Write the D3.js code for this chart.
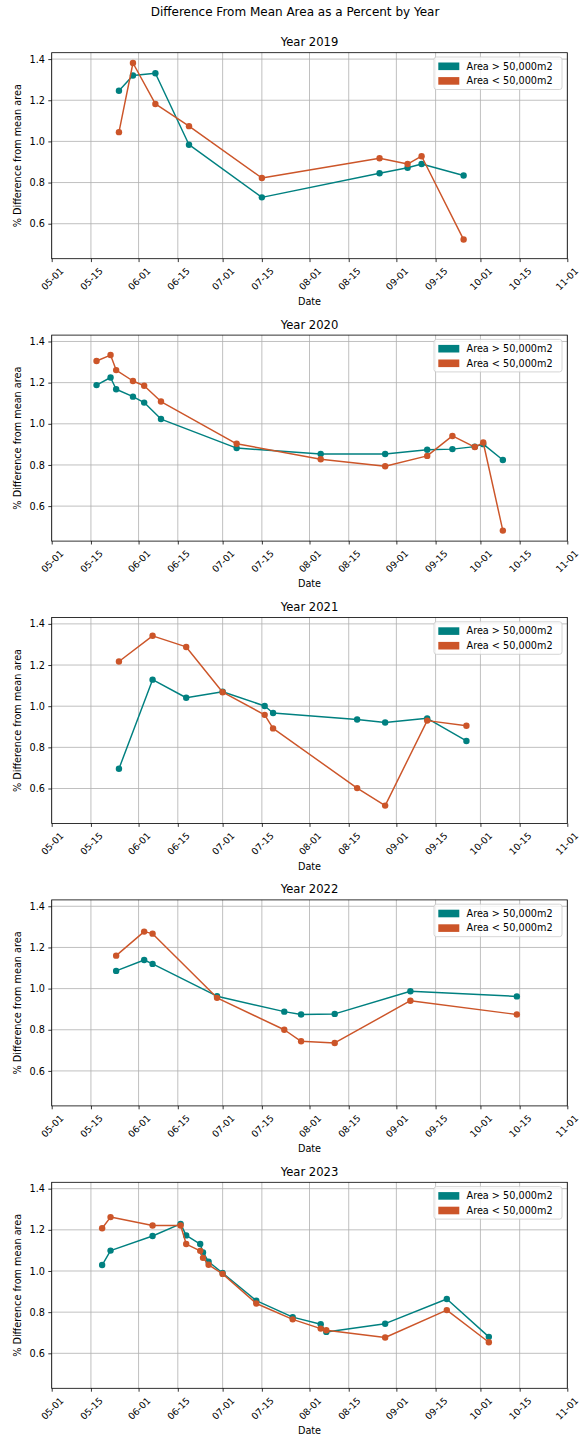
<!DOCTYPE html>
<html>
<head>
<meta charset="utf-8">
<script src="https://cdn.jsdelivr.net/npm/d3@7"></script>
<style>
  html, body { margin: 0; padding: 0; background: #fff; }
  svg { display: block; font-family: "DejaVu Sans", sans-serif; }
</style>
</head>
<body>
<svg id="chart" width="579" height="1437"></svg>
<script>
// ---------------- data ----------------
const years = [2019, 2020, 2021, 2022, 2023];
const seriesNames = ["Area > 50,000m2", "Area < 50,000m2"];
const seriesColors = ["#008080", "#cc5529"];
const xTickLabels = ["05-01","05-15","06-01","06-15","07-01","07-15","08-01","08-15","09-01","09-15","10-01","10-15","11-01"];
const yTickValues = [0.6, 0.8, 1.0, 1.2, 1.4];

const dates2019 = ["05-25","05-30","06-07","06-19","07-15","08-26","09-05","09-10","09-25"];
const large2019 = [1.246, 1.320, 1.331, 0.984, 0.728, 0.845, 0.872, 0.890, 0.834];
const small2019 = [1.045, 1.381, 1.182, 1.074, 0.822, 0.918, 0.890, 0.928, 0.523];

const dates2020 = ["05-17","05-22","05-24","05-30","06-03","06-09","07-06","08-05","08-28","09-12","09-21","09-29","10-02","10-09"];
const large2020 = [1.188, 1.225, 1.168, 1.132, 1.103, 1.023, 0.882, 0.853, 0.853, 0.874, 0.877, 0.889, 0.901, 0.824];
const small2020 = [1.305, 1.334, 1.261, 1.208, 1.185, 1.108, 0.903, 0.828, 0.794, 0.844, 0.941, 0.887, 0.909, 0.481];

const dates2021 = ["05-25","06-06","06-18","07-01","07-16","07-19","08-18","08-28","09-12","09-26"];
const large2021 = [0.696, 1.129, 1.041, 1.070, 1.001, 0.967, 0.935, 0.921, 0.941, 0.831];
const small2021 = [1.217, 1.342, 1.288, 1.068, 0.958, 0.892, 0.602, 0.517, 0.930, 0.905];

const dates2022 = ["05-24","06-03","06-06","06-29","07-23","07-29","08-10","09-06","10-14"];
const large2022 = [1.086, 1.139, 1.120, 0.963, 0.888, 0.874, 0.877, 0.987, 0.962];
const small2022 = [1.160, 1.277, 1.267, 0.955, 0.800, 0.744, 0.736, 0.941, 0.874];

const dates2023 = ["05-19","05-22","06-06","06-16","06-18","06-23","06-24","06-26","07-01","07-13","07-26","08-05","08-07","08-28","09-19","10-04"];
const large2023 = [1.029, 1.099, 1.170, 1.229, 1.173, 1.131, 1.090, 1.045, 0.990, 0.856, 0.776, 0.741, 0.704, 0.744, 0.864, 0.680];
const small2023 = [1.208, 1.262, 1.221, 1.221, 1.131, 1.098, 1.064, 1.030, 0.986, 0.842, 0.765, 0.720, 0.712, 0.677, 0.810, 0.654];

const yDomain = [0.430, 1.431];

const panels = [
  {year: 2019, dates: dates2019, series: [large2019, small2019]},
  {year: 2020, dates: dates2020, series: [large2020, small2020]},
  {year: 2021, dates: dates2021, series: [large2021, small2021]},
  {year: 2022, dates: dates2022, series: [large2022, small2022]},
  {year: 2023, dates: dates2023, series: [large2023, small2023]}
];

// ---------------- layout ----------------
const svg = d3.select("#chart");
const left = 51.7, right = 567.3;
const top0 = 52.7, step = 282.4, ph = 206;
const parse = d3.timeParse("%Y-%m-%d");
const fmt = d3.timeFormat("%m-%d");

svg.append("text")
  .attr("x", 295).attr("y", 16)
  .attr("text-anchor", "middle")
  .attr("font-size", 12)
  .attr("fill", "#000")
  .text("Difference From Mean Area as a Percent by Year");

panels.forEach((p, i) => {
  const top = top0 + i * step, bottom = top + ph;
  const x = d3.scaleTime()
    .domain([parse(p.year + "-05-01"), parse(p.year + "-11-01")])
    .range([left, right]);
  const y = d3.scaleLinear().domain(yDomain).range([bottom, top]);
  const tickDates = xTickLabels.map(l => parse(p.year + "-" + l));

  const g = svg.append("g");

  // grid
  g.append("g").selectAll("line.vg").data(tickDates).join("line")
    .attr("x1", d => x(d)).attr("x2", d => x(d))
    .attr("y1", top).attr("y2", bottom)
    .attr("stroke", "#b0b0b0").attr("stroke-width", 0.8);
  g.append("g").selectAll("line.hg").data(yTickValues).join("line")
    .attr("x1", left).attr("x2", right)
    .attr("y1", d => y(d)).attr("y2", d => y(d))
    .attr("stroke", "#b0b0b0").attr("stroke-width", 0.8);

  // x axis
  const xAxis = d3.axisBottom(x).tickValues(tickDates).tickFormat(fmt)
    .tickSize(3.4).tickPadding(3);
  const xg = g.append("g").attr("transform", `translate(0,${bottom})`).call(xAxis);
  xg.select(".domain").remove();
  xg.selectAll(".tick line").attr("stroke", "#000").attr("stroke-width", 0.8);
  xg.selectAll(".tick text")
    .attr("font-size", 9.3).attr("font-family", "DejaVu Sans").attr("fill", "#000")
    .attr("y", 0).attr("dy", null)
    .attr("text-anchor", "middle")
    .attr("dominant-baseline", "central")
    .attr("transform", (d, k) => k === xTickLabels.length - 1
      ? "translate(-1,20) rotate(-45)" : "translate(0,20) rotate(-45)");

  // y axis
  const yAxis = d3.axisLeft(y).tickValues(yTickValues).tickFormat(d3.format(".1f"))
    .tickSize(3.4).tickPadding(3.4);
  const yg = g.append("g").attr("transform", `translate(${left},0)`).call(yAxis);
  yg.select(".domain").remove();
  yg.selectAll(".tick line").attr("stroke", "#000").attr("stroke-width", 0.8);
  yg.selectAll(".tick text")
    .attr("font-size", 9.7).attr("font-family", "DejaVu Sans").attr("fill", "#000");

  // spines
  g.append("rect")
    .attr("x", left).attr("y", top)
    .attr("width", right - left).attr("height", ph)
    .attr("fill", "none").attr("stroke", "#000").attr("stroke-width", 0.8);

  // series
  p.series.forEach((vals, si) => {
    const pts = p.dates.map((d, k) => ({date: parse(p.year + "-" + d), v: vals[k]}));
    const line = d3.line().x(d => x(d.date)).y(d => y(d.v));
    g.append("path").datum(pts)
      .attr("d", line)
      .attr("fill", "none")
      .attr("stroke", seriesColors[si])
      .attr("stroke-width", 1.45)
      .attr("stroke-linejoin", "round");
    g.append("g").selectAll("circle").data(pts).join("circle")
      .attr("cx", d => x(d.date)).attr("cy", d => y(d.v))
      .attr("r", 3.2)
      .attr("fill", seriesColors[si]);
  });

  // titles and labels
  svg.append("text")
    .attr("x", (left + right) / 2).attr("y", top - 6.5)
    .attr("text-anchor", "middle").attr("font-size", 11.6).attr("fill", "#000")
    .text("Year " + p.year);
  svg.append("text")
    .attr("x", (left + right) / 2).attr("y", bottom + 46)
    .attr("text-anchor", "middle").attr("font-size", 9.7).attr("fill", "#000")
    .text("Date");
  svg.append("text")
    .attr("transform", `translate(17.5,${(top + bottom) / 2}) rotate(-90)`)
    .attr("dy", "0.35em")
    .attr("text-anchor", "middle").attr("font-size", 9.7).attr("fill", "#000")
    .text("% Difference from mean area");

  // legend
  const lg = svg.append("g").attr("transform", `translate(434,${top + 4.3})`);
  lg.append("rect")
    .attr("x", 0).attr("y", 0).attr("width", 128).attr("height", 32.5)
    .attr("rx", 2.5)
    .attr("fill", "#fff").attr("fill-opacity", 0.8)
    .attr("stroke", "#cccccc").attr("stroke-width", 0.8);
  seriesNames.forEach((name, si) => {
    const cy = 9.3 + si * 14.6;
    lg.append("rect")
      .attr("x", 4.3).attr("y", cy - 3.8).attr("width", 21).attr("height", 7.6)
      .attr("fill", seriesColors[si]);
    lg.append("text")
      .attr("x", 32.5).attr("y", cy).attr("dy", "0.35em")
      .attr("font-size", 9.7).attr("fill", "#000")
      .text(name);
  });
});
</script>
</body>
</html>
